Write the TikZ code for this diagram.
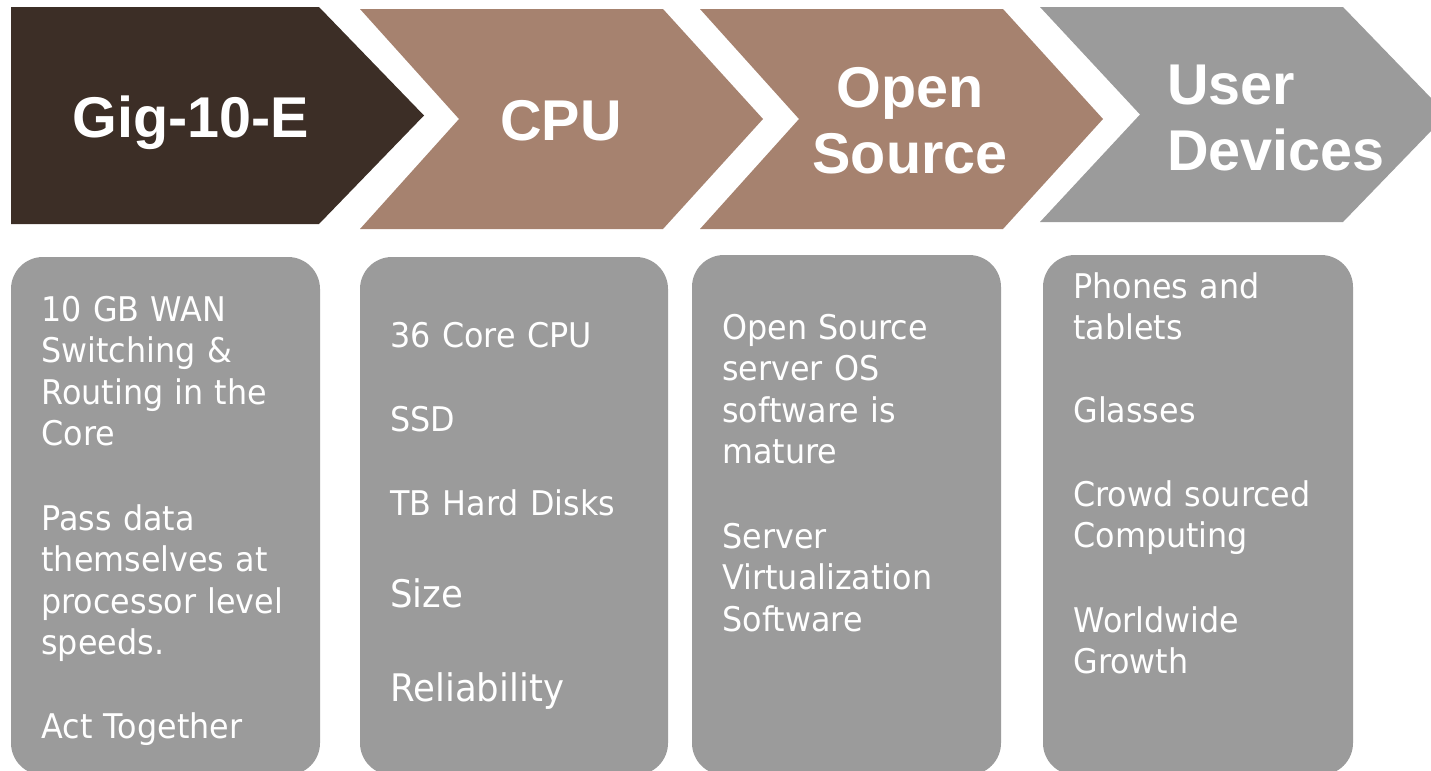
\documentclass[tikz,border=0pt]{standalone}
\usepackage{fontspec}
\newfontfamily\headfont{Liberation Sans}
\newfontfamily\bodyfont[FakeStretch=0.935]{DejaVu Sans}
\definecolor{darkbrown}{RGB}{60,46,38}
\definecolor{tanbrown}{RGB}{166,130,111}
\definecolor{panelgray}{RGB}{155,155,155}
\begin{document}
\begin{tikzpicture}[x=0.5pt,y=-0.5pt,
  head/.style={text=white, font=\headfont\bfseries\fontsize{28.75pt}{33pt}\selectfont, inner sep=0pt, text width=160pt},
  body/.style={text=white, font=\bodyfont\fontsize{17pt}{20.75pt}\selectfont, inner sep=0pt, anchor=base west, align=left, text width=150pt},
  bigbody/.style={body, font=\bodyfont\fontsize{18.2pt}{22pt}\selectfont, font=\bodyfont\fontsize{19pt}{23pt}\selectfont},
  panel/.style={fill=panelgray, rounded corners=16pt}]
\useasboundingbox (0,0) rectangle (1431,771);
\clip (0,0) rectangle (1431,771);
% chevrons
\fill[darkbrown] (11,7) -- (319,7) -- (424,115.5) -- (319,224) -- (11,224) -- cycle;
\fill[tanbrown] (360,9) -- (663,9) -- (763,119) -- (663,229) -- (360,229) -- (459,119) -- cycle;
\fill[tanbrown] (700,9) -- (1003,9) -- (1103,119) -- (1003,229) -- (700,229) -- (799,119) -- cycle;
\fill[panelgray] (1040,7) -- (1343,7) -- (1447,114.5) -- (1343,222) -- (1040,222) -- (1140,114.5) -- cycle;
% header texts
\node[head, anchor=base, align=center] (h1) at (190.5,137) {Gig-10-E};
\node[head, anchor=base, align=center] (h2) at (561,140) {CPU};
\node[head, anchor=base, align=center] (h3) at (910,107) {Open\\Source};
\node[head, anchor=base west, align=left] (h4) at (1167,104) {User\\Devices};
% panels
\fill[panel] (11,257) rectangle (320,775);
\fill[panel] (360,257) rectangle (668,775);
\fill[panel] (692,255) rectangle (1001,775);
\fill[panel] (1043,255) rectangle (1353,775);
% panel 1
\node[body] (a1) at (41,321) {10 GB WAN\\Switching \&\\Routing in the\\Core};
\node[body] (a2) at (41,530) {Pass data\\themselves at\\processor level\\speeds.};
\node[body] (a3) at (41,738) {Act Together};
% panel 2
\node[body] (b1) at (390,347) {36 Core CPU};
\node[body] (b2) at (390,431) {SSD};
\node[body] (b3) at (390,515) {TB Hard Disks};
\node[bigbody] (b4) at (390,607) {Size};
\node[bigbody] (b5) at (390,701) {Reliability};
% panel 3
\node[body] (c1) at (722,339) {Open Source\\server OS\\software is\\mature};
\node[body] (c2) at (722,548) {Server\\Virtualization\\Software};
% panel 4
\node[body] (d1) at (1073,298) {Phones and\\tablets};
\node[body] (d2) at (1073,422) {Glasses};
\node[body] (d3) at (1073,506) {Crowd sourced\\Computing};
\node[body] (d4) at (1073,632) {Worldwide\\Growth};
\end{tikzpicture}
\end{document}
